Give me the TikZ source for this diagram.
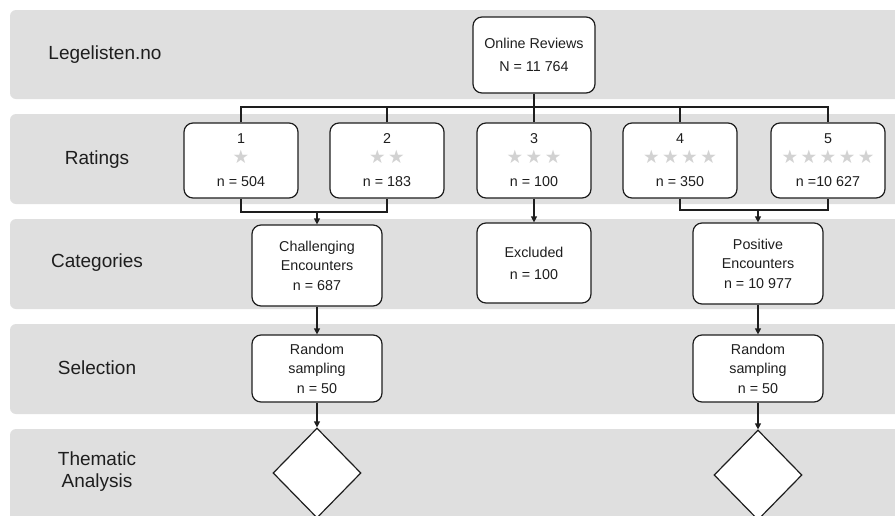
\documentclass[tikz,border=0pt]{standalone}
\usepackage{fontspec}
\setmainfont{Liberation Sans}
\newfontfamily\starfont{DejaVu Sans}
\usetikzlibrary{arrows.meta,shapes.geometric}
\definecolor{bandgray}{RGB}{223,223,223}
\definecolor{stargray}{RGB}{210,210,210}
\definecolor{ink}{RGB}{30,30,30}
\newcommand{\stars}[1]{\raisebox{0pt}[10pt][3pt]{\starfont\fontsize{18.5}{18.5}\selectfont\color{stargray}#1}}
\newcommand{\sg}{\hspace{2.5pt}}
\tikzset{
  band/.style={fill=bandgray, draw=none, rounded corners=6pt},
  box/.style={draw=ink, line width=1.2pt, fill=white, rounded corners=9pt, align=center,
    font=\fontsize{14.3}{20}\selectfont, text=ink, inner sep=0pt},
  rbox/.style={box, minimum width=114pt, minimum height=75pt},
  cbox/.style={box, minimum width=130pt, minimum height=81pt},
  sbox/.style={box, minimum width=130pt, minimum height=67pt},
  dia/.style={diamond, draw=ink, line width=1.2pt, fill=white, minimum width=88pt, minimum height=90pt, inner sep=0pt},
  lbl/.style={font=\fontsize{19}{22}\selectfont, align=center, text=ink},
  conn/.style={draw=ink, line width=1.2pt},
  arr/.style={conn, -{Triangle[length=6pt,width=6pt]}},
}
\begin{document}
\begin{tikzpicture}[x=1pt,y=-1pt]
\useasboundingbox (0,0) rectangle (895,515);
\clip (0,0) rectangle (895,515);
% bands
\fill[band] (10,10) rectangle (910,99);
\fill[band] (10,114) rectangle (910,204);
\fill[band] (10,219) rectangle (910,309);
\fill[band] (10,324) rectangle (910,414);
\fill[band] (10,429) rectangle (910,540);
% band labels
\node[lbl] (l1) at (105,55) {Legelisten.no};
\node[lbl] (l2) at (97,160) {Ratings};
\node[lbl] (l3) at (97,263) {Categories};
\node[lbl] (l4) at (97,368) {Selection};
\node[lbl] (l5) at (97,472) {Thematic\\Analysis};
% boxes
\node[box, minimum width=122pt, minimum height=76pt] (or) at (534,55) {Online Reviews\\[3pt]N = 11 764};
\node[rbox] (r1) at (241,160.5) {1\\\stars{★}\\[3pt]n = 504};
\node[rbox] (r2) at (387,160.5) {2\\\stars{★\sg★}\\[3pt]n = 183};
\node[rbox] (r3) at (534,160.5) {3\\\stars{★\sg★\sg★}\\[3pt]n = 100};
\node[rbox] (r4) at (680,160.5) {4\\\stars{★\sg★\sg★\sg★}\\[3pt]n = 350};
\node[rbox] (r5) at (828,160.5) {5\\\stars{★\sg★\sg★\sg★\sg★}\\[3pt]n =10 627};
\node[cbox] (ch) at (317,265.5) {Challenging\\[-1pt]Encounters\\[0pt]n = 687};
\node[box, minimum width=114pt, minimum height=80pt] (ex) at (534,263) {Excluded\\[2pt]n = 100};
\node[cbox] (po) at (758,263.5) {Positive\\[-1pt]Encounters\\[0pt]n = 10 977};
\node[sbox] (s1) at (317,368.5) {Random\\[-1pt]sampling\\[0pt]n = 50};
\node[sbox] (s2) at (758,368.5) {Random\\[-1pt]sampling\\[0pt]n = 50};
\node[dia] (d1) at (317,473) {};
\node[dia] (d2) at (758,475) {};
% connectors
\coordinate (topbus) at (0,107);
\coordinate (lbus) at (0,212);
\coordinate (rbus) at (0,210);
\draw[conn] (or.south) -- (r3.north);
\draw[conn] (r1.north) -- (r1.north |- topbus) -- (r5.north |- topbus) -- (r5.north);
\draw[conn] (r2.north) -- (r2.north |- topbus);
\draw[conn] (r4.north) -- (r4.north |- topbus);
\draw[conn] (r1.south) -- (r1.south |- lbus) -- (r2.south |- lbus) -- (r2.south);
\draw[arr] (ch.north |- lbus) -- (ch.north);
\draw[arr] (r3.south) -- (ex.north);
\draw[conn] (r4.south) -- (r4.south |- rbus) -- (r5.south |- rbus) -- (r5.south);
\draw[arr] (po.north |- rbus) -- (po.north);
\draw[arr] (ch.south) -- (s1.north);
\draw[arr] (po.south) -- (s2.north);
\draw[arr] (s1.south) -- (d1.north);
\draw[arr] (s2.south) -- (d2.north);
\end{tikzpicture}
\end{document}
